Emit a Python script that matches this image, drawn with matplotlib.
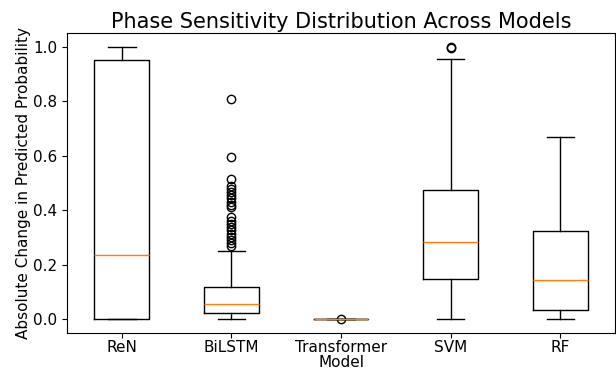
import matplotlib
matplotlib.use("Agg")
import matplotlib.pyplot as plt

models = ["ReN", "BiLSTM", "Transformer", "SVM", "RF"]
medians = [0.237, 0.054, 0.0, 0.283, 0.143]
q1s = [0.0, 0.023, 0.0, 0.146, 0.033]
q3s = [0.952, 0.118, 0.0, 0.476, 0.322]
whisker_lo = [0.0, 0.0, 0.0, 0.0, 0.0]
whisker_hi = [1.0, 0.252, 0.0, 0.957, 0.668]
fliers = [
    [],
    [0.81, 0.595, 0.515, 0.49, 0.478, 0.466, 0.455, 0.444, 0.432, 0.42, 0.41,
     0.374, 0.362, 0.35, 0.338, 0.326, 0.314, 0.302, 0.29, 0.28, 0.27],
    [0.0],
    [0.995, 1.0],
    [],
]

stats = []
for i, name in enumerate(models):
    stats.append(dict(label=name, med=medians[i], q1=q1s[i], q3=q3s[i],
                      whislo=whisker_lo[i], whishi=whisker_hi[i], fliers=fliers[i]))

fig = plt.figure(figsize=(6.16, 3.71), dpi=100)
ax = fig.add_axes([67/616, 1 - 332.7/371, (615 - 67)/616, (332.7 - 33.3)/371])
ax.bxp(stats)
ax.set_ylim(-0.05, 1.05)
ax.set_title("Phase Sensitivity Distribution Across Models", fontsize=15, pad=4)
ax.set_xlabel("Model", fontsize=11, labelpad=0)
ax.set_ylabel("Absolute Change in Predicted Probability", fontsize=11, labelpad=1.5)
ax.tick_params(labelsize=11)
ax.tick_params(axis="x", pad=2)
fig.savefig("out.png", dpi=100)
